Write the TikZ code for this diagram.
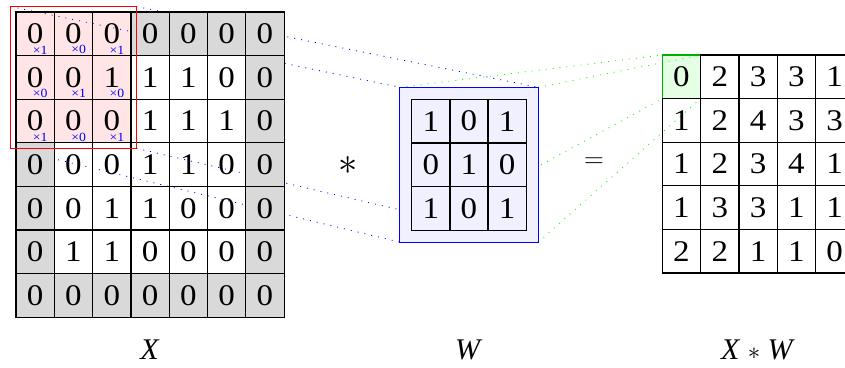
\documentclass[tikz,border=0pt]{standalone}
\usepackage{fontspec}
\setmainfont{Liberation Serif}
\newfontfamily\cellfont[FakeStretch=1.1]{Liberation Serif}
\usetikzlibrary{fit}
\pgfdeclarelayer{links}
\pgfdeclarelayer{frames}
\pgfsetlayers{links,frames,main}
\tikzset{
  cell/.style={draw=black, line width=1.2pt, minimum width=38.3pt,
    minimum height=43.6pt, inner sep=0pt, outer sep=0pt, anchor=north west,
    font=\cellfont\fontsize{30}{30}\selectfont},
  xcell/.style={cell},
  xpad/.style={cell, fill=gray!30},
  xwin/.style={cell, fill=red, fill opacity=0.1, text opacity=1},
  ocell/.style={cell},
  ofirst/.style={cell, draw=green!70!black, fill=green, fill opacity=0.1,
    text opacity=1},
  mult/.style={text=blue, font=\cellfont\fontsize{12.5}{12.5}\selectfont,
    inner sep=0pt, anchor=south east},
  blueguide/.style={blue, line width=0.8pt, dash pattern=on 1pt off 6pt},
  greenguide/.style={green, line width=0.8pt, dash pattern=on 1pt off 6pt},
  caption/.style={font=\fontsize{30}{30}\selectfont},
}
\begin{document}
\begin{tikzpicture}[x=1pt, y=-1pt]
\useasboundingbox (0,0) rectangle (845,367);
\clip (0,0) rectangle (845,367);

% input matrix X with zero padding
\foreach \r/\row in {1/{0,0,0,0,0,0,0}, 2/{0,0,1,1,1,0,0}, 3/{0,0,0,1,1,1,0},
    4/{0,0,0,1,1,0,0}, 5/{0,0,1,1,0,0,0}, 6/{0,1,1,0,0,0,0}, 7/{0,0,0,0,0,0,0}} {
  \foreach \v [count=\c] in \row {
    \def\sty{xcell}
    \ifnum\r=1 \def\sty{xpad}\fi
    \ifnum\r=7 \def\sty{xpad}\fi
    \ifnum\c=1 \def\sty{xpad}\fi
    \ifnum\c=7 \def\sty{xpad}\fi
    \ifnum\r<4 \ifnum\c<4 \def\sty{xwin}\fi\fi
    \node[\sty] (x-\r-\c) at ({16+(\c-1)*38.3}, {12+(\r-1)*43.6}) {\v};
  }
}

% kernel weights written under the window cells
\foreach \r/\row in {1/{1,0,1}, 2/{0,1,0}, 3/{1,0,1}} {
  \foreach \w [count=\c] in \row {
    \node[mult] (m-\r-\c) at ([shift={(-6.5,-1.3)}]x-\r-\c.south east) {×\w};
  }
}

% current receptive-field window
\node[draw=red, line width=1pt, inner sep=5.5pt, outer sep=0pt,
  fit=(x-1-1)(x-3-3)] (win) {};

% kernel W
\foreach \r/\row in {1/{1,0,1}, 2/{0,1,0}, 3/{1,0,1}} {
  \foreach \v [count=\c] in \row {
    \node[cell] (k-\r-\c) at ({411.7+(\c-1)*38.1}, {99.3+(\r-1)*43.6}) {\v};
  }
}
\begin{pgfonlayer}{frames}
  \node[draw=blue, fill=blue!6, line width=0.9pt, inner sep=12pt, outer sep=0pt,
    fit=(k-1-1)(k-3-3)] (kbox) {};
\end{pgfonlayer}

% output X * W
\foreach \r/\row in {1/{0,2,3,3,1}, 2/{1,2,4,3,3}, 3/{1,2,3,4,1},
    4/{1,3,3,1,1}, 5/{2,2,1,1,0}} {
  \foreach \v [count=\c] in \row {
    \def\sty{ocell}
    \ifnum\r=1 \ifnum\c=1 \def\sty{ofirst}\fi\fi
    \node[\sty] (o-\r-\c) at ({662.3+(\c-1)*38.3}, {55+(\r-1)*43.6}) {\v};
  }
}

% operators and captions
\node[font=\fontsize{30}{30}\selectfont] (op) at (348,166)
  {\scalebox{1.55}{$\ast$}};
\node[font=\fontsize{30}{30}\selectfont] (eq) at (594,162.3)
  {\scalebox{1.1}{$=$}};
\node[caption] (lx) at (150,350) {\textit{X}};
\node[caption] (lw) at (468.7,350) {\textit{W}};
\node[caption] (lxw) at (758,350) {\textit{X} $\ast$ \textit{W}};

% guide lines from window to kernel and from kernel to output
\begin{pgfonlayer}{links}
  \draw[blueguide] (win.north west) -- (kbox.north west);
  \draw[blueguide] (win.north east) -- (kbox.north east);
  \draw[blueguide] (win.south west) -- (kbox.south west);
  \draw[blueguide] (win.south east) -- (kbox.south east);
  \draw[greenguide] (kbox.north west) -- (o-1-1.north west);
  \draw[greenguide] (kbox.north east) -- (o-1-1.north east);
  \draw[greenguide] (kbox.south west) -- (o-1-1.south west);
  \draw[greenguide] (kbox.south east) -- (o-1-1.south east);
\end{pgfonlayer}
\end{tikzpicture}
\end{document}
